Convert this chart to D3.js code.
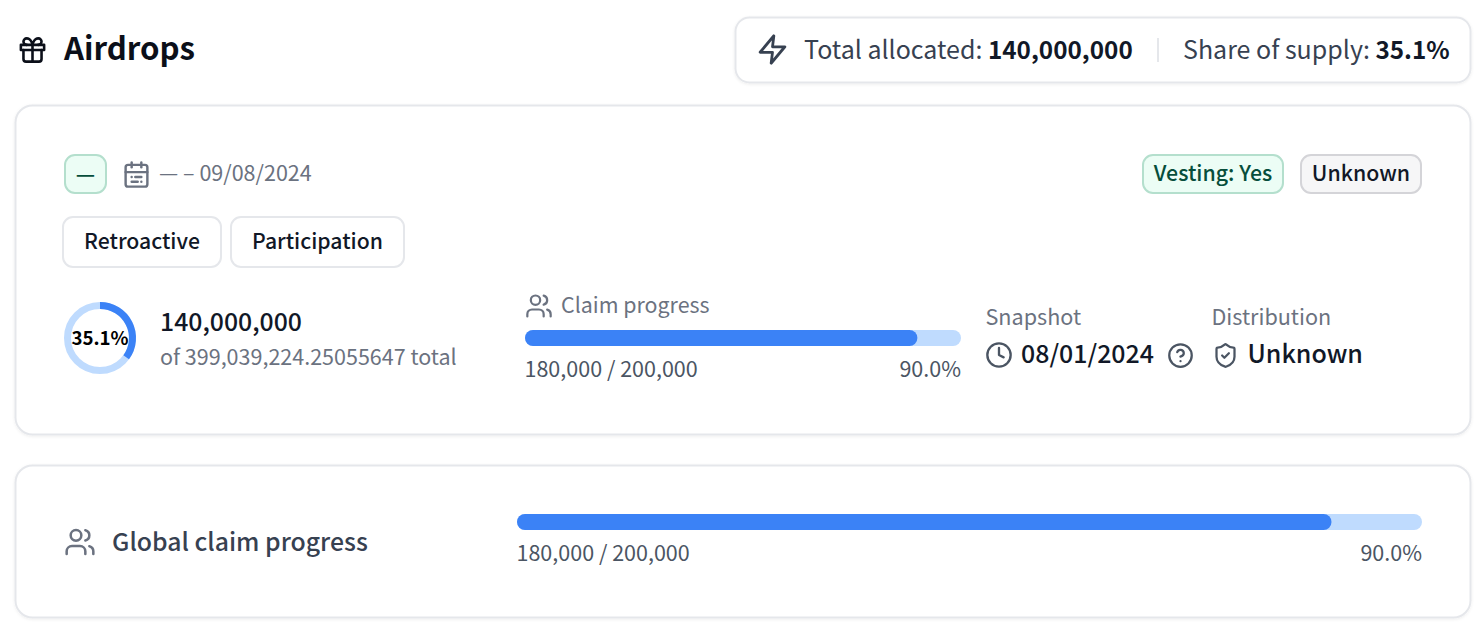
<!DOCTYPE html>
<html><head><meta charset="utf-8">
<script src="https://cdn.jsdelivr.net/npm/d3@7/dist/d3.min.js"></script>
<style>html,body{margin:0;padding:0;background:#fff}svg{display:block}
text{font-family:"Noto Sans CJK SC","Noto Sans",sans-serif}</style></head>
<body><svg id="c" width="1476" height="636"></svg>
<script>
const title = "Airdrops";
const totalAllocated = 140000000;
const totalSupply = 399039224.25055647;
const sharePct = 35.1;
const claimed = 180000;
const claimTotal = 200000;
const claimPct = 90.0;
const typeTags = ["Retroactive", "Participation"];
const snapshotDate = "08/01/2024";
const distribution = "Unknown";
const dateRange = "— – 09/08/2024";

const svg = d3.select("#c");
const defs = svg.append("defs");
const f = defs.append("filter").attr("id","sh").attr("x","-2%").attr("y","-5%").attr("width","104%").attr("height","112%");
f.append("feDropShadow").attr("dx",0).attr("dy",1).attr("stdDeviation",1.5).attr("flood-color","#000").attr("flood-opacity",0.07);

const GRAY="#6b7280", DARK="#111827", MID="#374151", BLUE="#3b82f6", LIGHT="#bfdbfe", LINE="#e5e7eb", GREENLINE="#b4dfcd";

function box(x,y,w,h,r,fill,stroke,sw,shadow){
  const s=svg.append("rect").attr("x",x).attr("y",y).attr("width",w).attr("height",h).attr("rx",r)
    .attr("fill",fill).attr("stroke",stroke).attr("stroke-width",sw);
  if(shadow) s.attr("filter","url(#sh)");
  return s;
}
function txt(x,y,s,size,color,weight,anchor){
  return svg.append("text").attr("x",x).attr("y",y).text(s).attr("font-size",size).attr("fill",color)
    .attr("font-weight",weight||400).attr("text-anchor",anchor||"start");
}
function icon(x,y,size,color,sw,paths){
  const g=svg.append("g").attr("transform",`translate(${x},${y}) scale(${size/24})`)
    .attr("fill","none").attr("stroke",color).attr("stroke-width",sw).attr("stroke-linecap","round").attr("stroke-linejoin","round");
  paths.forEach(d=>g.append("path").attr("d",d));
}
const fmt = d3.format(",");

// Header
icon(17,34.5,31,"#0b0f19",2,["M3 8h18v4H3z","M12 8v13","M19 12v7a2 2 0 0 1-2 2H7a2 2 0 0 1-2-2v-7","M7.5 8a2.5 2.5 0 0 1 0-5C11 3 12 8 12 8s1-5 4.5-5a2.5 2.5 0 0 1 0 5"]);
txt(64,60,title,31.2,"#0b0f19",700);

// Summary pill
box(735.5,17.5,735,65,14,"#fff",LINE,2,true);
icon(756,33,33,MID,2,["M13 2 3 14h9l-1 8 10-12h-9l1-8z"]);
const tA=txt(804,59,"Total allocated: ",25,MID);
tA.append("tspan").text(fmt(totalAllocated)).attr("font-weight",700).attr("fill",DARK).attr("font-size",24.3);
svg.append("line").attr("x1",1158).attr("x2",1158).attr("y1",38).attr("y2",62).attr("stroke",LINE).attr("stroke-width",2);
const tB=txt(1183,59,"Share of supply: ",25,MID);
tB.append("tspan").text(sharePct.toFixed(1)+"%").attr("font-weight",700).attr("fill",DARK).attr("font-size",24.3);

// Card 1
box(15.5,105.5,1455,329,17,"#fff",LINE,2,true);
box(65,155,41,38,10,"#ecfdf5",GREENLINE,2);
txt(85.5,182,"—",21.5,"#064e3b",500,"middle");
icon(122,160,29,GRAY,2,["M8 2v4","M16 2v4","M5 4h14a2 2 0 0 1 2 2v14a2 2 0 0 1-2 2H5a2 2 0 0 1-2-2V6a2 2 0 0 1 2-2z","M3 10h18","M8 14h.01","M11 14h5","M8 18h5","M16 18h.01"]);
txt(159,181,dateRange,21.5,GRAY);

box(1143,155,140,38,10,"#ecfdf5",GREENLINE,2);
txt(1213,181,"Vesting: Yes",21.3,"#064e3b",500,"middle");
box(1301,155,120,38,10,"#f6f6f7","#d4d4d8",2);
txt(1361,181,"Unknown",21.3,DARK,500,"middle");

const tagX=[63,231], tagW=[158,173];
typeTags.forEach((t,i)=>{
  box(tagX[i],217,tagW[i],50,10,"#fff",LINE,2);
  txt(tagX[i]+tagW[i]/2,249,t,21.2,DARK,500,"middle");
});

// Donut
const angle=d3.scaleLinear().domain([0,100]).range([0,2*Math.PI]);
const donut=svg.append("g").attr("transform","translate(100,338)");
const ring=d3.arc().innerRadius(32.5).outerRadius(32.5).startAngle(0);
donut.append("path").attr("d",ring({endAngle:2*Math.PI})).attr("fill","none").attr("stroke",LIGHT).attr("stroke-width",7);
donut.append("path").attr("d",ring({endAngle:angle(sharePct)})).attr("fill","none").attr("stroke",BLUE).attr("stroke-width",7).attr("stroke-linecap","round");
txt(100,345,sharePct.toFixed(1)+"%",18.7,"#000",700,"middle");
txt(160,331,fmt(totalAllocated),24.8,DARK,500);
txt(160,365,"of "+d3.format(",.8f")(totalSupply)+" total",21.5,GRAY);

function bar(x0,x1,y,h,right){
  const x=d3.scaleLinear().domain([0,claimTotal]).range([x0,x1]);
  svg.append("rect").attr("x",x(0)).attr("y",y).attr("width",x(claimTotal)-x(0)).attr("height",h).attr("rx",h/2).attr("fill",LIGHT);
  svg.append("rect").attr("x",x(0)).attr("y",y).attr("width",x(claimed)-x(0)).attr("height",h).attr("rx",h/2).attr("fill",BLUE);
  txt(x0-0.5,y+47,fmt(claimed)+" / "+fmt(claimTotal),right,"#4b5563");
  txt(x1,y+47,claimPct.toFixed(1)+"%",right,"#4b5563",400,"end");
}
const users=["M16 21v-2a4 4 0 0 0-4-4H6a4 4 0 0 0-4 4v2","M9 3a4 4 0 1 0 0 8 4 4 0 0 0 0-8z","M22 21v-2a4 4 0 0 0-3-3.87","M16 3.13a4 4 0 0 1 0 7.75"];

// Claim progress
icon(525,292,28,GRAY,1.9,users);
txt(561,313,"Claim progress",21.4,GRAY);
bar(525,961,330,16,21.5);

// Snapshot
txt(985.5,325,"Snapshot",21.6,GRAY);
icon(985,341,28,"#4b5563",2,["M12 2a10 10 0 1 0 0 20 10 10 0 0 0 0-20z","M12 6v6l4 2"]);
txt(1021,363,snapshotDate,24.9,DARK,500);
icon(1167,342,27,"#4b5563",2,["M12 2a10 10 0 1 0 0 20 10 10 0 0 0 0-20z","M9.09 9a3 3 0 0 1 5.83 1c0 2-3 3-3 3","M12 17h.01"]);

// Distribution
txt(1211.5,325,"Distribution",21.6,GRAY);
icon(1212,342,27,"#4b5563",2,["M20 13c0 5-3.5 7.5-7.66 8.95a1 1 0 0 1-.67-.01C7.5 20.5 4 18 4 13V6a1 1 0 0 1 1-1c2 0 4.5-1.2 6.24-2.72a1.17 1.17 0 0 1 1.52 0C14.51 3.81 17 5 19 5a1 1 0 0 1 1 1z","m9 12 2 2 4-4"]);
txt(1247.5,363,distribution,25,DARK,500);

// Card 2
box(15.5,465.5,1455,152,17,"#fff",LINE,2,true);
icon(64,526,32,GRAY,1.9,users);
txt(112,551,"Global claim progress",24.8,MID,500);
bar(517,1422,514,16,21.5);
</script></body></html>
